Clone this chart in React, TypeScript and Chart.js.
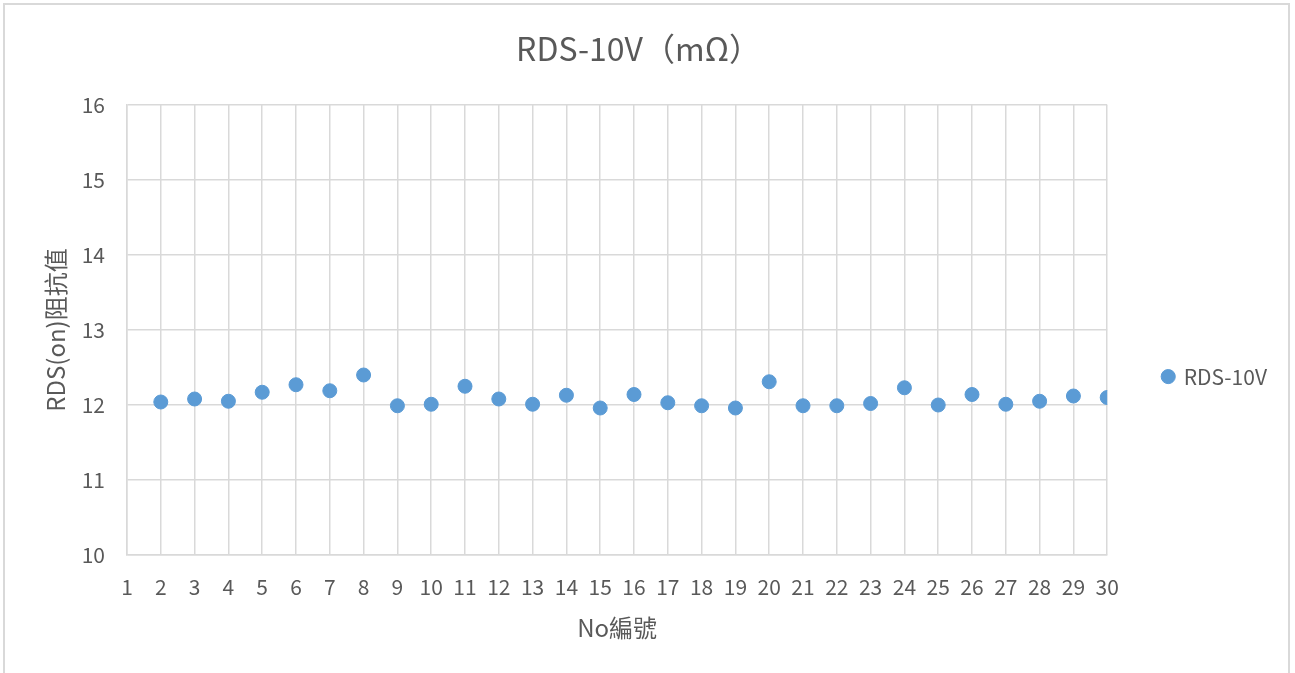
import React, { useEffect, useRef } from "react";
import { Chart, registerables } from "chart.js";

Chart.register(...registerables);

const chartTitle = "RDS-10V（mΩ）";
const seriesName = "RDS-10V";
const xAxisTitle = "No編號";
const yAxisTitle = "RDS(on)阻抗值";

const sampleNo = [2, 3, 4, 5, 6, 7, 8, 9, 10, 11, 12, 13, 14, 15, 16, 17, 18, 19, 20, 21, 22, 23, 24, 25, 26, 27, 28, 29, 30];
const rdsValues = [
  12.04, 12.08, 12.05, 12.17, 12.27, 12.19, 12.4, 11.99, 12.01, 12.25,
  12.08, 12.01, 12.13, 11.96, 12.14, 12.03, 11.99, 11.96, 12.31, 11.99,
  11.99, 12.02, 12.23, 12.0, 12.14, 12.01, 12.05, 12.12, 12.1,
];

const xMin = 1;
const xMax = 30;
const yMin = 10;
const yMax = 16;

const FONT = '"Noto Sans CJK TC", "Noto Sans", sans-serif';
const TEXT = "#595959";
const GRID = "#d9d9d9";
const POINT = "#5B9BD5";

export default function App() {
  const canvasRef = useRef<HTMLCanvasElement | null>(null);

  useEffect(() => {
    document.body.style.margin = "0";
    document.body.style.overflow = "hidden";
    const canvas = canvasRef.current;
    if (!canvas) return;
    const chart = new Chart(canvas, {
      type: "scatter",
      data: {
        datasets: [
          {
            label: seriesName,
            data: sampleNo.map((x, i) => ({ x, y: rdsValues[i] })),
            backgroundColor: POINT,
            borderColor: POINT,
            borderWidth: 1,
            pointRadius: 7,
            pointHoverRadius: 7,
          },
        ],
      },
      options: {
        responsive: false,
        animation: false,
        events: [],
        layout: { padding: { left: 0, right: 18, top: 4, bottom: 0 } },
        plugins: {
          title: {
            display: true,
            text: chartTitle,
            color: TEXT,
            font: { family: FONT, size: 32, weight: "normal" },
            padding: { top: 25.8, bottom: 36.8 },
          },
          legend: {
            position: "right",
            labels: {
              usePointStyle: true,
              pointStyle: "circle",
              boxWidth: 10,
              boxHeight: 10,
              padding: 56,
              color: TEXT,
              font: { family: FONT, size: 21 },
            },
            title: {
              display: true,
              text: "",
              font: { family: FONT, size: 1 },
              padding: { top: 75, bottom: 0 },
            },
          },
          tooltip: { enabled: false },
        },
        scales: {
          x: {
            type: "linear",
            min: xMin,
            max: xMax,
            ticks: {
              stepSize: 1,
              color: TEXT,
              font: { family: FONT, size: 21 },
              padding: 19,
              maxRotation: 0,
              autoSkip: false,
            },
            grid: { color: GRID, drawTicks: false, lineWidth: 1.5 },
            border: { color: GRID, width: 1.5 },
            title: {
              display: true,
              text: xAxisTitle,
              color: TEXT,
              font: { family: FONT, size: 24 },
              padding: { top: 0, bottom: 30.6 },
            },
            afterFit: (s: any) => {
              s.height = 118;
            },
          },
          y: {
            type: "linear",
            min: yMin,
            max: yMax,
            ticks: {
              stepSize: 1,
              color: TEXT,
              font: { family: FONT, size: 21 },
              padding: 22,
            },
            grid: { color: GRID, drawTicks: false, lineWidth: 1.5 },
            border: { color: GRID, width: 1.5 },
            title: {
              display: true,
              text: yAxisTitle,
              color: TEXT,
              font: { family: FONT, size: 24 },
              padding: { top: 41, bottom: 0 },
            },
            afterFit: (s: any) => {
              s.width = 127;
            },
          },
        },
      },
    });
    return () => chart.destroy();
  }, []);

  return (
    <div style={{ position: "fixed", left: 0, top: 0, width: 1295, height: 673, overflow: "hidden", background: "#fff" }}>
      <canvas ref={canvasRef} width={1295} height={673} style={{ position: "absolute", left: 0, top: 0 }} />
      <div
        style={{
          position: "absolute",
          left: 3,
          top: 3,
          width: 1287,
          height: 700,
          border: "2px solid #d9d9d9",
          boxSizing: "border-box",
          pointerEvents: "none",
        }}
      />
    </div>
  );
}
